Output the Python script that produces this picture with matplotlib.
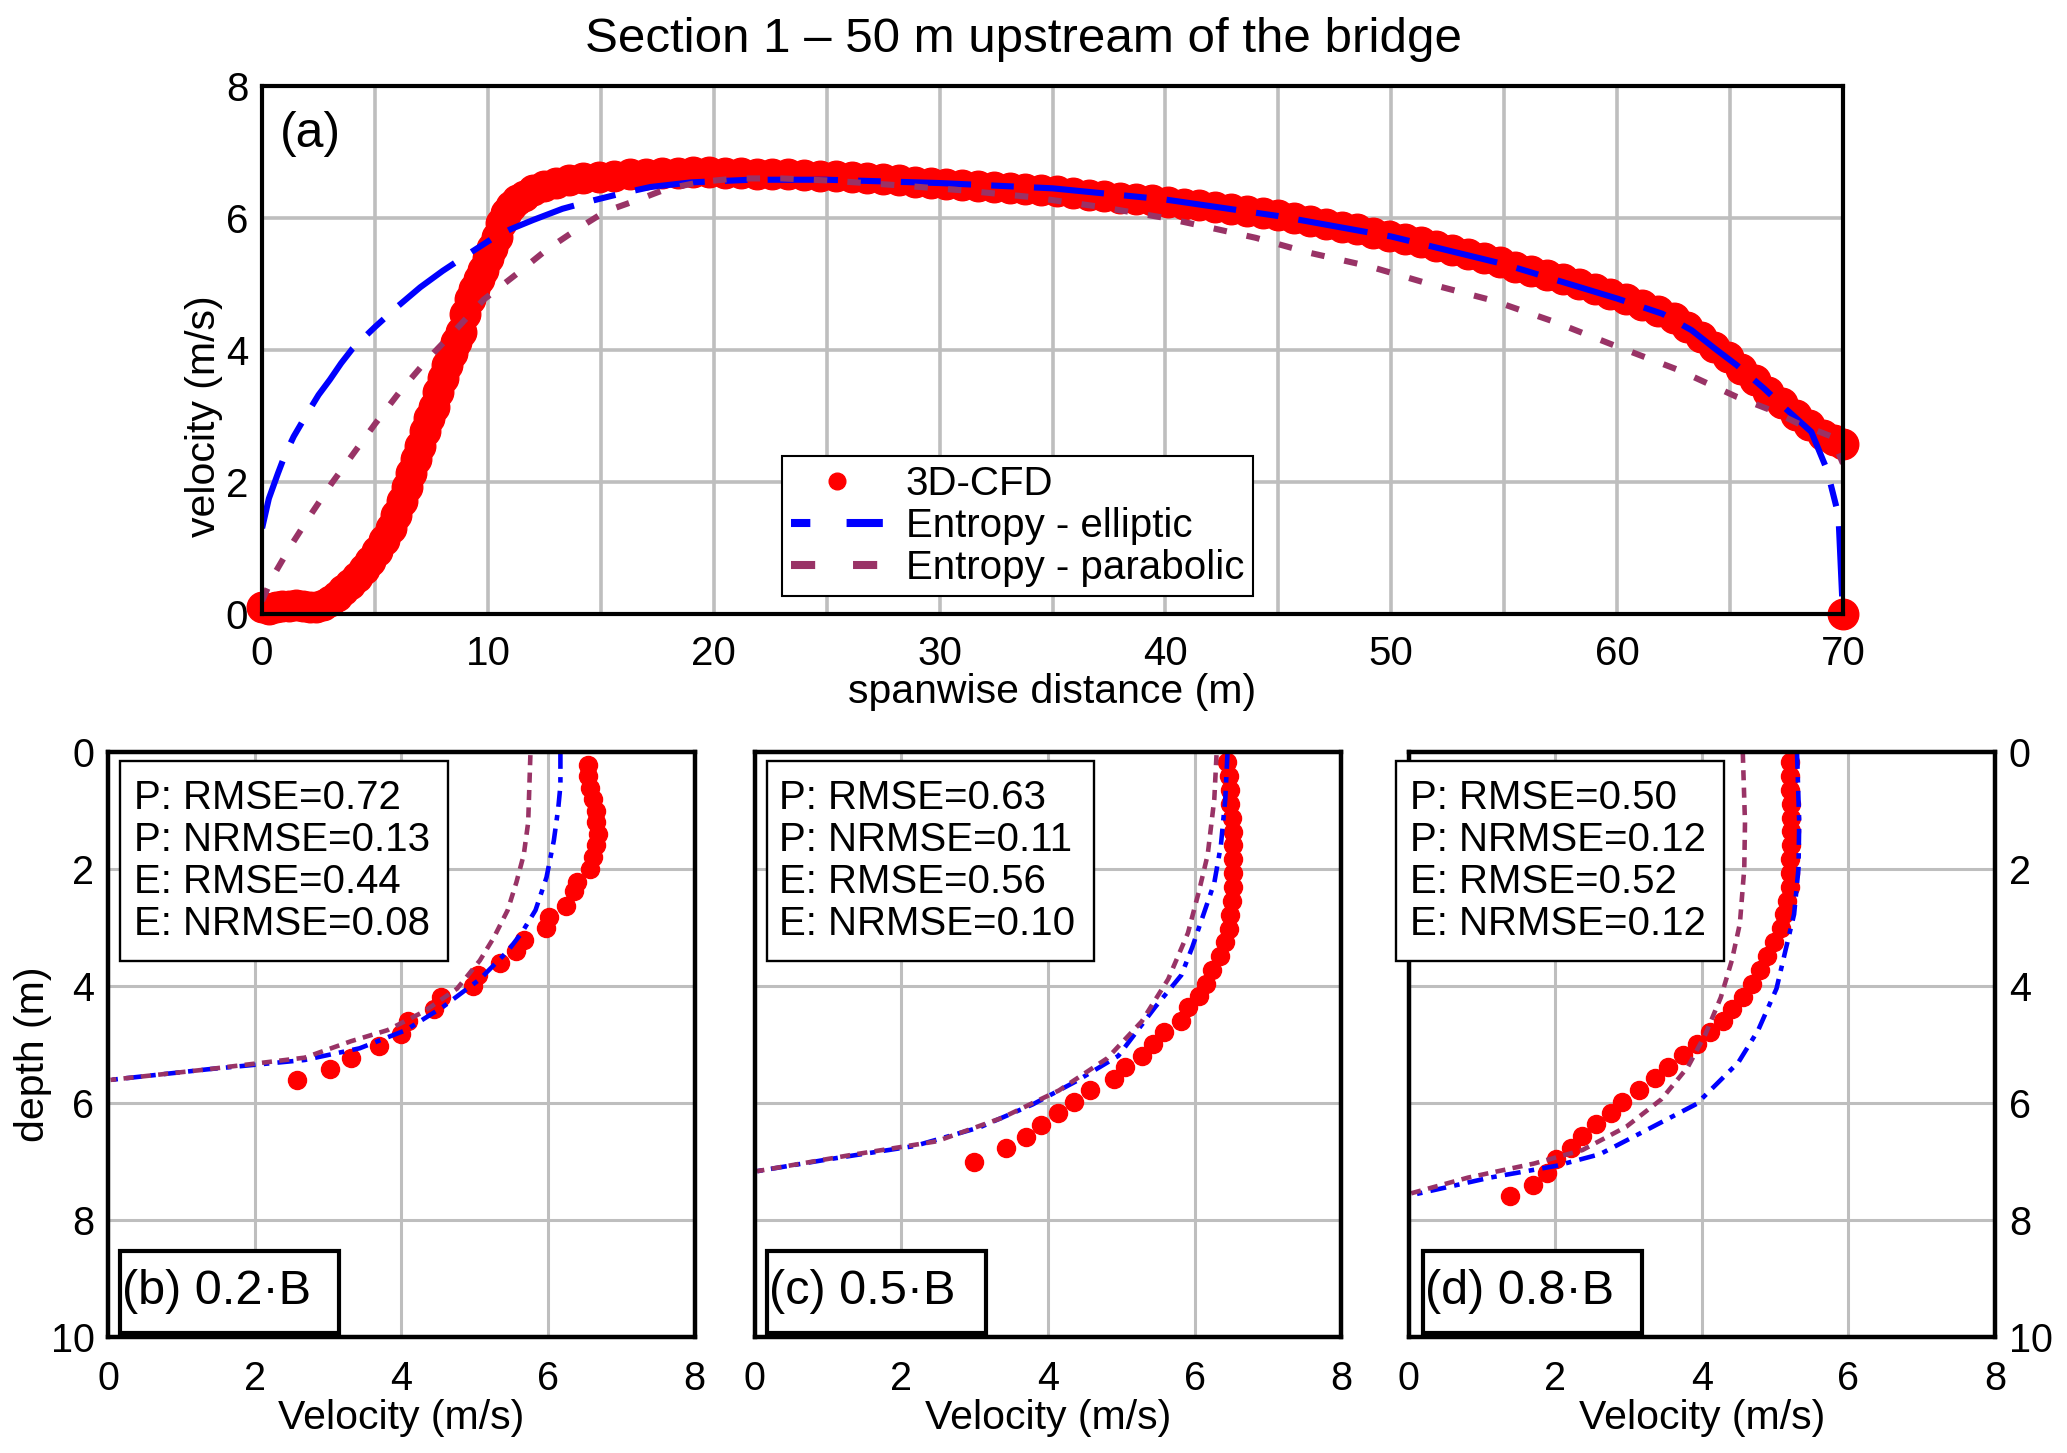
import matplotlib
matplotlib.use("Agg")
import matplotlib.pyplot as plt
from matplotlib.patches import Rectangle
from matplotlib.lines import Line2D

plt.rcParams['font.family'] = ['Liberation Sans', 'DejaVu Sans']

# ---------------- data: panel (a) ----------------
cfd_x = [0.0, 0.3, 0.6, 0.9, 1.2, 1.5, 1.8, 2.1, 2.4, 2.7,
         3.0, 3.3, 3.6, 3.9, 4.2, 4.5, 4.8, 5.1, 5.4, 5.7, 5.95, 6.2, 6.4, 6.6, 6.8,
         7.0, 7.2, 7.4, 7.6, 7.8, 8.0, 8.2, 8.4, 8.6, 8.8, 9.0, 9.2, 9.4, 9.6, 9.8,
         10.0, 10.2, 10.4, 10.6, 10.8, 11.0, 11.3, 11.6, 12.0, 12.5, 13.0, 13.6, 14.2,
         14.9, 15.6, 16.3, 17.0, 17.7, 18.4, 19.1, 19.8, 20.5, 21.2, 21.9, 22.6, 23.3,
         24.0, 24.7, 25.4, 26.1, 26.8, 27.5, 28.2, 28.9, 29.6, 30.3, 31.0, 31.7, 32.4,
         33.1, 33.8, 34.5, 35.2, 35.9, 36.6, 37.3, 38.0, 38.7, 39.4, 40.1, 40.8, 41.5,
         42.2, 42.9, 43.6, 44.3, 45.0, 45.7, 46.4, 47.1, 47.8, 48.5, 49.2, 49.9, 50.6,
         51.3, 52.0, 52.7, 53.4, 54.1, 54.8, 55.5, 56.2, 56.9, 57.6, 58.3, 59.0, 59.7,
         60.4, 61.1, 61.8, 62.5, 63.1, 63.7, 64.3, 64.9, 65.5, 66.1, 66.7, 67.3, 67.9,
         68.5, 69.1, 69.6, 70.0, 70.0]
cfd_v = [0.10, 0.08, 0.10, 0.12, 0.12, 0.13, 0.12, 0.11, 0.10, 0.13,
         0.20, 0.28, 0.36, 0.46, 0.56, 0.68, 0.80, 0.95, 1.12, 1.30, 1.50, 1.72, 1.93, 2.13, 2.35,
         2.55, 2.78, 2.97, 3.14, 3.36, 3.58, 3.78, 3.96, 4.12, 4.28, 4.55, 4.78, 4.93, 5.08, 5.22,
         5.40, 5.55, 5.72, 5.92, 6.08, 6.18, 6.27, 6.34, 6.42, 6.48, 6.53, 6.57, 6.60,
         6.62, 6.64, 6.66, 6.67, 6.68, 6.68, 6.69, 6.69, 6.68, 6.68, 6.67, 6.67, 6.66,
         6.65, 6.64, 6.63, 6.62, 6.60, 6.59, 6.57, 6.55, 6.53, 6.51, 6.50, 6.48, 6.47,
         6.45, 6.44, 6.42, 6.41, 6.38, 6.35, 6.33, 6.31, 6.29, 6.27, 6.25, 6.22, 6.19,
         6.16, 6.13, 6.10, 6.07, 6.04, 6.00, 5.96, 5.91, 5.87, 5.83, 5.78, 5.73, 5.68,
         5.63, 5.58, 5.52, 5.46, 5.40, 5.33, 5.26, 5.20, 5.14, 5.07, 5.00, 4.93, 4.85,
         4.77, 4.68, 4.59, 4.48, 4.35, 4.20, 4.05, 3.89, 3.71, 3.54, 3.37, 3.20, 3.02,
         2.86, 2.72, 2.64, 2.57, 0.0]

ell_x = [0.0, 0.3, 0.7, 1.0, 1.4, 2.0, 2.5, 3.0, 3.5, 4.0, 5.0, 6.0, 7.0, 8.0, 9.2, 10.2,
         11.0, 12.0, 13.3, 14.7, 16.0, 17.2, 19.0, 21.6, 25.0, 30.0, 35.0, 40.0, 45.0,
         50.0, 55.0, 60.0, 62.0, 63.3, 64.3, 65.3, 66.5, 67.5, 68.6, 69.3, 69.8, 70.0]
ell_v = [1.30, 1.75, 2.13, 2.40, 2.69, 3.04, 3.32, 3.55, 3.80, 4.02, 4.35, 4.66, 4.95, 5.20,
         5.47, 5.69, 5.83, 5.97, 6.14, 6.27, 6.38, 6.47, 6.54, 6.58, 6.58, 6.53, 6.45, 6.28,
         6.03, 5.72, 5.30, 4.78, 4.55, 4.30, 4.03, 3.77, 3.42, 3.10, 2.76, 2.18, 1.50, 0.0]

par_x = [0.0, 0.43, 1.3, 2.2, 3.08, 4.04, 5.0, 6.1, 7.3, 8.5, 9.8, 11.3, 12.6, 13.9, 15.2,
         16.6, 17.9, 19.5, 21.0, 23.0, 25.0, 28.0, 31.0, 34.0, 37.1, 40.0, 42.3, 44.0,
         46.3, 49.0, 51.5, 54.5, 57.2, 59.8, 62.7, 65.3, 66.8, 68.0, 69.5, 70.0]
par_v = [0.20, 0.54, 1.05, 1.53, 1.98, 2.43, 2.88, 3.37, 3.85, 4.28, 4.76, 5.16, 5.52, 5.82,
         6.10, 6.27, 6.44, 6.55, 6.60, 6.60, 6.57, 6.50, 6.42, 6.32, 6.17, 6.00, 5.83, 5.70,
         5.48, 5.27, 5.02, 4.75, 4.43, 4.08, 3.70, 3.29, 3.09, 2.89, 2.69, 2.28]

# ---------------- data: panels (b)-(d) ----------------
b_cfd_v = [6.55, 6.55, 6.58, 6.61, 6.65, 6.66, 6.68, 6.65, 6.61, 6.58, 6.39, 6.36, 6.24, 6.02,
           5.98, 5.67, 5.57, 5.35, 5.04, 4.98, 4.54, 4.44, 4.09, 4.00, 3.69, 3.31, 3.02, 2.58]
b_cfd_d = [0.22, 0.42, 0.62, 0.81, 1.01, 1.21, 1.40, 1.60, 1.80, 2.00, 2.23, 2.39, 2.63, 2.82,
           3.02, 3.22, 3.41, 3.61, 3.81, 4.01, 4.20, 4.40, 4.60, 4.83, 5.03, 5.23, 5.43, 5.62]
b_ell_v = [6.17, 6.17, 6.14, 6.08, 5.98, 5.83, 5.64, 5.45, 5.07, 4.57, 4.06, 3.43, 2.68, 1.35, 0.03]
b_ell_d = [0.02, 0.58, 0.97, 1.52, 2.15, 2.71, 3.10, 3.41, 3.89, 4.36, 4.76, 5.07, 5.27, 5.43, 5.61]
b_par_v = [5.76, 5.73, 5.67, 5.57, 5.45, 5.26, 5.07, 4.76, 4.31, 3.81, 3.31, 2.68, 1.35, 0.03]
b_par_d = [0.06, 1.21, 1.76, 2.23, 2.71, 3.18, 3.57, 4.05, 4.44, 4.76, 4.95, 5.23, 5.43, 5.61]

c_cfd_v = [6.45, 6.47, 6.48, 6.49, 6.51, 6.52, 6.53, 6.53, 6.53, 6.52, 6.51, 6.49, 6.47, 6.42,
           6.35, 6.24, 6.15, 6.06, 5.91, 5.82, 5.58, 5.43, 5.28, 5.05, 4.90, 4.57, 4.36, 4.14,
           3.91, 3.70, 3.43, 2.99]
c_cfd_d = [0.18, 0.42, 0.66, 0.89, 1.13, 1.37, 1.60, 1.84, 2.08, 2.31, 2.55, 2.79, 3.03, 3.26,
           3.50, 3.74, 3.97, 4.17, 4.37, 4.61, 4.80, 5.00, 5.20, 5.39, 5.59, 5.79, 5.99, 6.18,
           6.38, 6.58, 6.78, 7.01]
c_ell_v = [6.45, 6.42, 6.36, 6.27, 6.12, 5.97, 5.82, 5.46, 4.96, 4.39, 3.79, 3.07, 2.18, 0.99, 0.03]
c_ell_d = [0.02, 0.81, 1.60, 2.24, 2.79, 3.34, 3.82, 4.37, 5.20, 5.63, 6.03, 6.42, 6.74, 6.97, 7.17]
c_par_v = [6.30, 6.27, 6.18, 6.06, 5.91, 5.64, 5.28, 4.81, 4.15, 3.37, 2.48, 1.28, 0.03]
c_par_d = [0.06, 0.81, 1.76, 2.39, 3.10, 3.89, 4.61, 5.24, 5.79, 6.26, 6.66, 6.90, 7.17]

d_cfd_v = [5.20, 5.21, 5.21, 5.22, 5.22, 5.22, 5.22, 5.21, 5.21, 5.20, 5.17, 5.12, 5.08, 4.98,
           4.89, 4.80, 4.68, 4.56, 4.41, 4.29, 4.11, 3.93, 3.75, 3.54, 3.36, 3.15, 2.91, 2.76,
           2.55, 2.37, 2.22, 2.01, 1.89, 1.70, 1.38]
d_cfd_d = [0.18, 0.42, 0.65, 0.89, 1.13, 1.36, 1.60, 1.84, 2.07, 2.31, 2.55, 2.78, 3.02, 3.26,
           3.49, 3.73, 3.97, 4.20, 4.40, 4.60, 4.79, 4.99, 5.19, 5.39, 5.58, 5.78, 5.98, 6.17,
           6.37, 6.57, 6.77, 6.96, 7.20, 7.40, 7.59]
d_ell_v = [5.30, 5.33, 5.32, 5.26, 5.14, 5.02, 4.77, 4.50, 3.93, 3.21, 2.61, 2.01, 1.11, 0.0]
d_ell_d = [0.02, 1.21, 2.00, 2.78, 3.41, 4.05, 4.76, 5.31, 6.02, 6.49, 6.88, 7.08, 7.28, 7.59]
d_par_v = [4.56, 4.59, 4.58, 4.52, 4.41, 4.26, 4.05, 3.81, 3.45, 2.97, 2.37, 1.71, 0.81, 0.0]
d_par_d = [0.02, 1.21, 2.00, 2.94, 3.57, 4.20, 4.83, 5.39, 5.94, 6.41, 6.81, 7.04, 7.28, 7.56]

stats_b = ["P: RMSE=0.72", "P: NRMSE=0.13", "E: RMSE=0.44", "E: NRMSE=0.08"]
stats_c = ["P: RMSE=0.63", "P: NRMSE=0.11", "E: RMSE=0.56", "E: NRMSE=0.10"]
stats_d = ["P: RMSE=0.50", "P: NRMSE=0.12", "E: RMSE=0.52", "E: NRMSE=0.12"]
labels_bcd = ["(b) 0.2\u00b7B", "(c) 0.5\u00b7B", "(d) 0.8\u00b7B"]

title = "Section 1 \u2013 50 m upstream of the bridge"
legend_labels = ["3D-CFD", "Entropy - elliptic", "Entropy - parabolic"]

RED = "#FF0000"
BLUE = "#0000FF"
PURPLE = "#993366"
GRID = "#BEBEBE"

fig = plt.figure(figsize=(20.67, 14.53), dpi=100)

# ---------------- panel (a) ----------------
ax = fig.add_axes([0.1268, 0.5774, 0.7648, 0.3634])
ax.plot(cfd_x, cfd_v, 'o', color=RED, ms=22, mec=RED, zorder=3, clip_on=False)
ax.plot(ell_x, ell_v, color=BLUE, lw=4.4, ls=(0, (11.5, 3.3, 3.7, 3.3)), zorder=4)
ax.plot(par_x, par_v, color=PURPLE, lw=4.4, ls=(0, (2.2, 3.3)), zorder=4)
ax.set_xlim(0, 70)
ax.set_ylim(0, 8)
ax.set_xticks(range(0, 71, 10))
ax.set_xticks(range(5, 70, 10), minor=True)
ax.set_yticks(range(0, 9, 2))
ax.grid(True, which='both', color=GRID, lw=2.6, zorder=0)
ax.set_axisbelow(True)
ax.tick_params(which='both', length=0, labelsize=29)
ax.tick_params(axis='x', pad=15)
ax.tick_params(axis='y', pad=10)
for s in ax.spines.values():
    s.set_linewidth(3)
    s.set_zorder(5)
ax.set_xlabel("spanwise distance (m)", fontsize=29.5)
ax.set_ylabel("velocity (m/s)", fontsize=29.5)
ax.xaxis.label.set_va('center')
ax.yaxis.label.set_va('center')
ax.xaxis.set_label_coords(0.5, -0.148)
ax.yaxis.set_label_coords(-0.037, 0.375)
ax.text(0.011, 0.909, "(a)", transform=ax.transAxes, fontsize=36, ha='left', va='center')

handles = [Line2D([], [], ls='none', marker='o', color=RED, ms=12),
           Line2D([], [], color=BLUE, lw=5.8, ls=(0, (2.4, 4.5, 4.5, 50))),
           Line2D([], [], color=PURPLE, lw=5.8, ls=(0, (3.0, 4.7)))]
leg = ax.legend(handles, legend_labels, loc='lower left', bbox_to_anchor=(0.329, 0.034),
                fontsize=29, frameon=True, fancybox=False, framealpha=1,
                edgecolor='black', handlelength=2.3, handletextpad=0.55,
                labelspacing=0.1, borderpad=0.22, borderaxespad=0)
leg.get_frame().set_linewidth(1.5)
leg.set_zorder(6)

fig.text(0.495, 1 - 39 / 1453, title, fontsize=35.5, ha='center', va='center')

# ---------------- panels (b)-(d) ----------------
lefts = [0.0524, 0.3652, 0.6815]
datasets = [(b_cfd_v, b_cfd_d, b_ell_v, b_ell_d, b_par_v, b_par_d, stats_b),
            (c_cfd_v, c_cfd_d, c_ell_v, c_ell_d, c_par_v, c_par_d, stats_c),
            (d_cfd_v, d_cfd_d, d_ell_v, d_ell_d, d_par_v, d_par_d, stats_d)]
stat_box_x = [0.0198, 0.020, -0.021]
stat_txt_x = [0.043, 0.042, 0.0024]
lab_box_x = [0.0198, 0.020, 0.024]
lab_txt_x = [0.024, 0.024, 0.028]

for i, (left, ds) in enumerate(zip(lefts, datasets)):
    cv, cd, ev, ed, pv, pd_, st = ds
    a = fig.add_axes([left, 0.0800, 0.2836, 0.4027])
    a.plot(cv, cd, 'o', color=RED, ms=13, mec=RED, zorder=3)
    a.plot(ev, ed, color=BLUE, lw=3.3, ls=(0, (3.5, 1.8, 1.2, 1.8)), zorder=4)
    a.plot(pv, pd_, color=PURPLE, lw=3.3, ls=(0, (2.2, 1.6)), zorder=4)
    a.set_xlim(0, 8)
    a.set_ylim(10, 0)
    a.set_xticks(range(0, 9, 2))
    a.set_yticks(range(0, 11, 2))
    a.grid(True, color=GRID, lw=2.2, zorder=0)
    a.set_axisbelow(True)
    a.tick_params(length=0, labelsize=28.5)
    a.tick_params(axis='x', pad=17)
    a.tick_params(axis='y', pad=10)
    for s in a.spines.values():
        s.set_linewidth(3.2)
        s.set_zorder(5)
    a.set_xlabel("Velocity (m/s)", fontsize=29.5)
    a.xaxis.label.set_va('center')
    a.xaxis.set_label_coords(0.5, -0.139)
    if i == 0:
        a.set_ylabel("depth (m)", fontsize=29.5)
        a.yaxis.label.set_va('center')
        a.yaxis.set_label_coords(-0.129, 0.483)
    elif i == 1:
        a.tick_params(axis='y', labelleft=False)
    else:
        a.yaxis.tick_right()
        a.tick_params(axis='y', labelleft=False, labelright=True, length=0, pad=10)

    a.add_patch(Rectangle((stat_box_x[i], 0.642), 0.559, 0.342, transform=a.transAxes,
                          facecolor='white', edgecolor='black', lw=1.7, zorder=6,
                          clip_on=False))
    a.text(stat_txt_x[i], 0.813, "\n".join(st), transform=a.transAxes, fontsize=29,
           ha='left', va='center', linespacing=1.13, zorder=7)
    a.add_patch(Rectangle((lab_box_x[i], 0.006), 0.374, 0.140, transform=a.transAxes,
                          facecolor='white', edgecolor='black', lw=3, zorder=6,
                          clip_on=False))
    a.text(lab_txt_x[i], 0.077, labels_bcd[i], transform=a.transAxes, fontsize=35,
           ha='left', va='center', zorder=7)

fig.savefig("out.png", dpi=100)
